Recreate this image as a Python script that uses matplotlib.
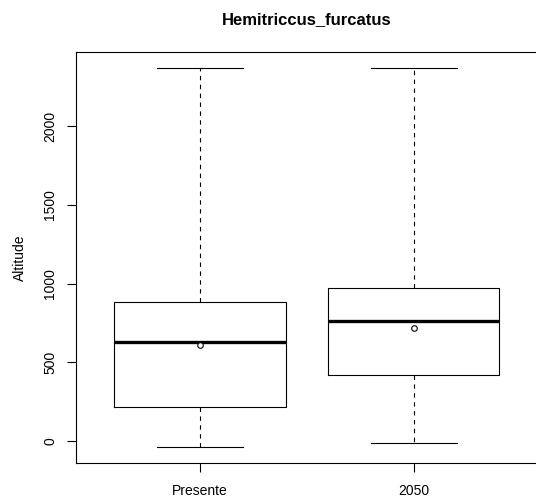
import matplotlib.pyplot as plt

plt.rcParams['font.family'] = ['Liberation Sans', 'DejaVu Sans']

# boxplot summary values
groups = ['Presente', '2050']
whisker_low = [-42, -13]
q1 = [217, 416]
median = [626, 761]
q3 = [881, 973]
whisker_high = [2372, 2372]
mean = [609, 715]

stats = []
for i in range(len(groups)):
    stats.append({'label': groups[i], 'whislo': whisker_low[i], 'q1': q1[i],
                  'med': median[i], 'q3': q3[i], 'whishi': whisker_high[i],
                  'mean': mean[i], 'fliers': []})

fig = plt.figure(figsize=(5.36, 5.03), dpi=100)
ax = fig.add_axes([76 / 536, 1 - 462.7 / 503, 462 / 536, 410.7 / 503])

ax.bxp(stats, positions=[1, 2], widths=0.8, showmeans=True, patch_artist=False,
       boxprops=dict(color='black', linewidth=0.8),
       medianprops=dict(color='black', linewidth=2.4, solid_capstyle='butt'),
       whiskerprops=dict(color='black', linewidth=0.8, linestyle=(0, (4, 4))),
       capprops=dict(color='black', linewidth=0.8),
       capwidths=0.4,
       meanprops=dict(marker='o', markerfacecolor='white', markeredgecolor='black',
                      markersize=4, markeredgewidth=0.8))

ax.set_xlim(0.42, 2.58)
ax.set_ylim(-139, 2472)
ax.set_yticks([0, 500, 1000, 1500, 2000])
ax.set_yticklabels(['0', '500', '1000', '1500', '2000'], rotation=90, va='center')
ax.set_xticks([1, 2])
ax.set_xticklabels(groups)
ax.tick_params(direction='out', length=6.5, width=0.8, labelsize=10, colors='black')
ax.tick_params(axis='x', pad=9)
ax.tick_params(axis='y', pad=7)
for s in ax.spines.values():
    s.set_linewidth(0.8)

ax.set_ylabel('Altitude', fontsize=10, labelpad=12)
ax.set_title('Hemitriccus_furcatus', fontsize=12, fontweight='bold', pad=20)

plt.savefig('out.png', dpi=100)
